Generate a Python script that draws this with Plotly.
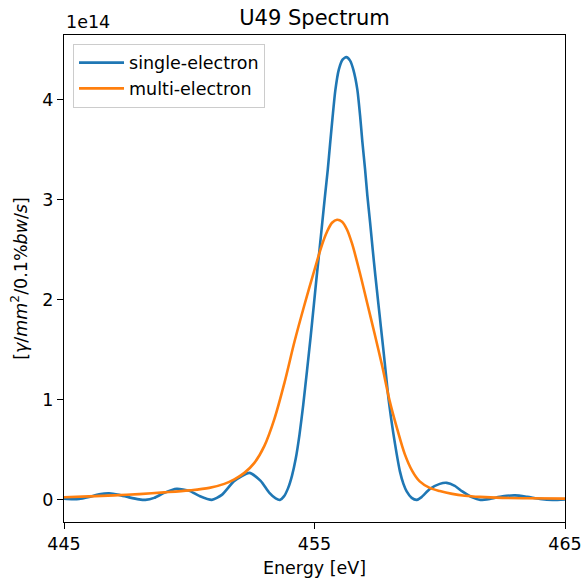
import plotly.graph_objects as go

# Energy [eV] and flux in units of 1e14 photons/mm^2/0.1%bw/s
single_energy = [445.0, 445.3, 445.6, 446.0, 446.4, 446.8, 447.2, 447.6, 448.0, 448.25,
                 448.6, 449.0, 449.5, 450.0, 450.4, 450.9, 451.3, 451.8, 452.4, 452.85,
                 453.2, 453.45, 453.62, 453.78, 453.95, 454.1, 454.25, 454.4, 454.55, 454.7,
                 454.85, 454.97, 455.09, 455.2, 455.31, 455.42, 455.53, 455.62, 455.72, 455.83,
                 455.97, 456.12, 456.27, 456.42, 456.55, 456.71, 456.82, 456.91, 457.02, 457.11,
                 457.22, 457.32, 457.43, 457.55, 457.65, 457.75, 457.85, 457.95, 458.05, 458.15,
                 458.28, 458.41, 458.55, 458.68, 458.88, 459.08, 459.26, 459.61, 460.0, 460.28,
                 460.6, 460.9, 461.3, 461.62, 462.0, 462.5, 463.0, 463.5, 464.0, 464.5,
                 465.0]
single_flux = [0.012, 0.008, 0.01, 0.03, 0.055, 0.065, 0.05, 0.025, 0.005, 0.0,
               0.02, 0.07, 0.11, 0.09, 0.04, 0.0, 0.05, 0.19, 0.27, 0.19,
               0.07, 0.015, 0.0, 0.035, 0.12, 0.24, 0.41, 0.65, 0.95, 1.29,
               1.64, 1.94, 2.24, 2.50, 2.77, 3.04, 3.30, 3.55, 3.82, 4.09,
               4.30, 4.40, 4.425, 4.39, 4.30, 4.10, 3.84, 3.58, 3.30, 3.04,
               2.77, 2.51, 2.24, 1.96, 1.73, 1.50, 1.26, 1.02, 0.83, 0.66,
               0.46, 0.285, 0.16, 0.085, 0.02, 0.0, 0.025, 0.11, 0.16, 0.17,
               0.14, 0.085, 0.025, 0.0, 0.01, 0.035, 0.045, 0.03, 0.01, 0.0,
               0.005]

multi_energy = [445.0, 446.0, 447.0, 448.0, 449.0, 450.0, 450.8, 451.4, 451.8, 452.2,
                452.6, 453.0, 453.4, 453.8, 454.2, 454.6, 455.0, 455.3, 455.5, 455.7,
                455.9, 456.1, 456.3, 456.5, 456.8, 457.1, 457.4, 457.7, 458.0, 458.3,
                458.6, 458.9, 459.2, 459.6, 460.0, 460.5, 461.0, 461.6, 462.5, 463.5,
                465.0]
multi_flux = [0.027, 0.035, 0.045, 0.058, 0.075, 0.095, 0.12, 0.16, 0.205, 0.27,
              0.37, 0.54, 0.81, 1.17, 1.58, 1.95, 2.30, 2.55, 2.68, 2.77,
              2.80, 2.78, 2.70, 2.56, 2.28, 1.97, 1.66, 1.34, 0.99, 0.71,
              0.46, 0.29, 0.185, 0.12, 0.088, 0.06, 0.042, 0.03, 0.02, 0.016,
              0.013]

x_ticks = [445, 455, 465]
y_ticks = [0, 1, 2, 3, 4]

FONT = "DejaVu Sans, sans-serif"
FS = 17.5

fig = go.Figure()
fig.add_trace(go.Scatter(x=single_energy, y=single_flux, mode="lines", name="single-electron",
                         line=dict(color="#1f77b4", width=2.6, shape="spline", smoothing=0.6)))
fig.add_trace(go.Scatter(x=multi_energy, y=multi_flux, mode="lines", name="multi-electron",
                         line=dict(color="#ff7f0e", width=2.6, shape="spline", smoothing=0.9)))

axis_common = dict(showline=True, linecolor="black", linewidth=1.3, mirror=True,
                   ticks="outside", ticklen=6, tickwidth=1.3, tickcolor="black",
                   showgrid=False, zeroline=False, automargin=False,
                   tickfont=dict(family=FONT, size=FS, color="black"))

fig.update_layout(
    width=583, height=584,
    margin=dict(l=64, r=18, t=35, b=62),
    paper_bgcolor="white", plot_bgcolor="white",
    font=dict(family=FONT, size=FS, color="black"),
    title=dict(text="U49 Spectrum", x=(64 + 565) / 2 / 583, xanchor="center",
               y=1 - 18 / 584, yanchor="middle", font=dict(family=FONT, size=21)),
    xaxis=dict(range=[445, 465], tickvals=x_ticks, ticktext=[str(v) for v in x_ticks],
               title=dict(text="Energy [eV]", font=dict(family=FONT, size=FS), standoff=8),
               **axis_common),
    yaxis=dict(range=[-0.221, 4.646], tickvals=y_ticks, ticktext=[str(v) for v in y_ticks],
               title=dict(text="[<i>γ</i>/<i>mm</i><sup>2</sup>/0.1%<i>bw</i>/<i>s</i>]",
                          font=dict(family=FONT, size=FS), standoff=10),
               **axis_common),
    legend=dict(x=0.018, y=0.982, xanchor="left", yanchor="top",
                bgcolor="rgba(255,255,255,0.8)", bordercolor="#cccccc", borderwidth=1,
                font=dict(family=FONT, size=FS), tracegroupgap=2, itemwidth=45),
    showlegend=True,
)

fig.add_annotation(text="1e14", xref="paper", yref="paper", x=0, y=1, xanchor="left",
                   yanchor="bottom", yshift=1, showarrow=False,
                   font=dict(family=FONT, size=FS, color="black"))

fig.write_html("out.html", post_script="document.body.style.margin='0';",
               config={"displayModeBar": False})
